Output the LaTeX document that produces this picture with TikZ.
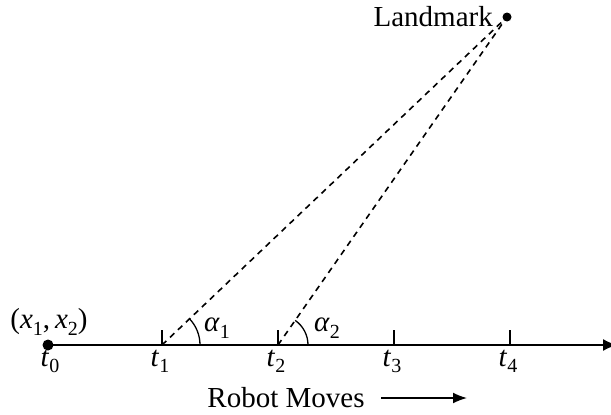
\documentclass[tikz,border=0pt]{standalone}
\usepackage{fontspec}
\setmainfont{Liberation Serif}
\usetikzlibrary{arrows.meta,calc}
\newcommand\msub[2]{\textit{#1}\raisebox{-0.22em}{\fontsize{20}{21}\selectfont #2}}
\begin{document}
\begin{tikzpicture}[x=1pt,y=-1pt,
  lbl/.style={font=\fontsize{29}{32}\selectfont, inner sep=0pt},
  tick/.style={line width=1.4pt},
  ray/.style={line width=1.6pt, dash pattern=on 6pt off 5pt},
  axis/.style={line width=1.6pt, -{Latex[length=14pt,width=12pt]}},
  dot/.style={circle, fill=black, inner sep=0pt, minimum size=11pt}]
\useasboundingbox (0,0) rectangle (611,415);
\node[dot] (t0) at (48,345) {};
\coordinate (end) at (617,345);
\coordinate (t1) at (162,345);
\coordinate (t2) at (278,345);
\coordinate (t3) at (394,345);
\coordinate (t4) at (510,345);
\node[dot, minimum size=9pt] (lm) at (507,17) {};
\draw[axis] (t0.center) -- (end);
\foreach \p in {t1,t2,t3,t4} \draw[tick] (\p) -- ++(0,-15);
\draw[ray] (t1) -- (lm.center);
\draw[ray] (t2) -- (lm.center);
\draw[line width=1.3pt] ($(t1)+(38,0)$) arc[start angle=0, end angle=-43.6, radius=38];
\draw[line width=1.3pt] ($(t2)+(30,0)$) arc[start angle=0, end angle=-55.1, radius=30];
\node[lbl, anchor=east] (lmlabel) at (493,17) {Landmark};
\node[lbl, anchor=north] (l0) at (50,350) {\msub{t}{0}};
\node[lbl, anchor=north] (l1) at (160,350) {\msub{t}{1}};
\node[lbl, anchor=north] (l2) at (276,350) {\msub{t}{2}};
\node[lbl, anchor=north] (l3) at (392,350) {\msub{t}{3}};
\node[lbl, anchor=north] (l4) at (508,350) {\msub{t}{4}};
\node[lbl] (xy) at (49,322) {(\msub{x}{1},\,\msub{x}{2})};
\node[lbl] (a1) at (217,328) {\msub{α}{1}};
\node[lbl] (a2) at (327,328) {\msub{α}{2}};
\node[lbl, anchor=base] (rm) at (286,407) {Robot Moves};
\coordinate (ms) at (381,398);
\coordinate (me) at (467,398);
\draw[line width=1.6pt, -{Latex[length=14pt,width=11pt]}] (ms) -- (me);
\end{tikzpicture}
\end{document}
